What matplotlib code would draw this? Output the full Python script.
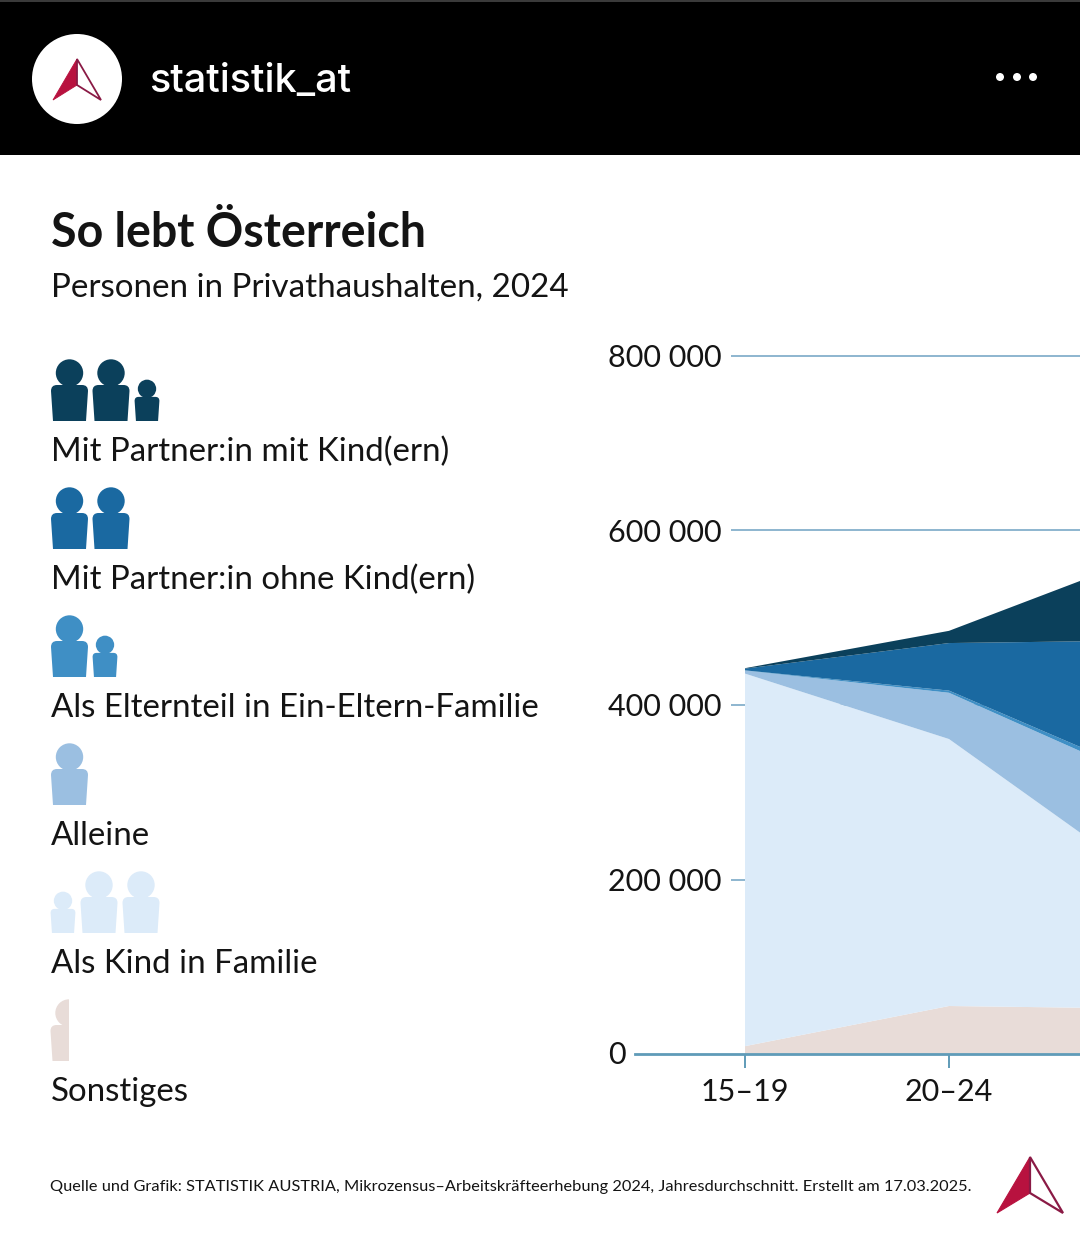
import matplotlib
matplotlib.use('Agg')
import matplotlib.pyplot as plt
from matplotlib.patches import Circle, PathPatch, Polygon, Rectangle
from matplotlib.path import Path
from matplotlib.transforms import ScaledTranslation
import numpy as np

W, H = 1080, 1235
FONT = 'Lato'
plt.rcParams['font.family'] = [FONT, 'DejaVu Sans']

# data (third age group is cut off at the right edge)
age_groups = ['15–19', '20–24', '25–29']
sonstiges = [9000, 55000, 52000]
als_kind = [427000, 306000, 142000]
alleine = [3500, 53000, 116000]
ein_eltern = [200, 2500, 6000]
ohne_kind = [2000, 54500, 158000]
mit_kind = [500, 14000, 100000]
y_ticks = [0, 200000, 400000, 600000, 800000]
y_labels = ['0', '200 000', '400 000', '600 000', '800 000']

col_mit = '#0b405b'
col_ohne = '#1a69a1'
col_eltern = '#3f8fc5'
col_allein = '#9bbfe1'
col_kind = '#dcebf9'
col_sonst = '#e8dcd8'
col_grid = '#8db5cf'
col_base = '#5f9bb8'
col_logo = '#b8123f'
col_logo2 = '#8a1a45'
col_text = '#141414'

legend_rows = [
    ('Mit Partner:in mit Kind(ern)', col_mit, 421, 452, [(69.5, 1), (111, 1), (147, 0.67)]),
    ('Mit Partner:in ohne Kind(ern)', col_ohne, 549, 580, [(69.5, 1), (111, 1)]),
    ('Als Elternteil in Ein-Eltern-Familie', col_eltern, 677, 708, [(69.5, 1), (105, 0.67)]),
    ('Alleine', col_allein, 805, 836, [(69.5, 1)]),
    ('Als Kind in Familie', col_kind, 933, 964, [(63, 0.67), (99, 1), (141, 1)]),
    ('Sonstiges', col_sonst, 1061, 1092, [(69, 1)]),
]

fig = plt.figure(figsize=(W / 100, H / 100), dpi=100, facecolor='white')

# chart, placed so that 0 sits at y=1054 and 800 000 at y=356
ax = fig.add_axes([635 / W, (H - 1054) / H, 445 / W, 698 / H])
x_pos = np.arange(len(age_groups))
ax.stackplot(x_pos, sonstiges, als_kind, alleine, ein_eltern, ohne_kind, mit_kind,
             colors=[col_sonst, col_kind, col_allein, col_eltern, col_ohne, col_mit],
             linewidth=0, zorder=3)
ax.set_xlim((635 - 745) / 204, (1080 - 745) / 204)
ax.set_ylim(0, 800000)
ax.hlines(y_ticks[1:], (731 - 745) / 204, 2, color=col_grid, lw=1.4, zorder=1, clip_on=False)
ax.axhline(0, color=col_base, lw=2.0, zorder=4, clip_on=False)
for s in ax.spines.values():
    s.set_visible(False)
ax.set_xticks(x_pos[:2], age_groups[:2])
ax.set_yticks(y_ticks, y_labels)
ax.tick_params(axis='x', length=10, width=1.4, color=col_base, pad=7,
               labelsize=22, labelcolor=col_text)
ax.tick_params(axis='y', length=0, pad=19.4, labelsize=22, labelcolor=col_text)
for t in ax.get_yticklabels():
    t.set_ha('left')
# the 0 label sits a little above the axis line in the original
zero = ax.get_yticklabels()[0]
zero.set_transform(zero.get_transform() + ScaledTranslation(0, 2 / 100, fig.dpi_scale_trans))
ax.patch.set_visible(False)

# everything else is drawn in pixel coordinates on top
ov = fig.add_axes([0, 0, 1, 1], zorder=5)
ov.set_xlim(0, W)
ov.set_ylim(H, 0)
ov.axis('off')


def person(cx, bottom, s, color, clip=None):
    # body with shoulders, slightly narrower to the bottom, plus a round head
    w_top, w_bot, h, r = 18.5 * s, 16.5 * s, 36 * s, 6 * s
    verts = [(cx - w_bot, bottom), (cx - w_top, bottom - h + r),
             (cx - w_top, bottom - h), (cx - w_top + r, bottom - h),
             (cx + w_top - r, bottom - h), (cx + w_top, bottom - h),
             (cx + w_top, bottom - h + r), (cx + w_bot, bottom), (cx - w_bot, bottom)]
    codes = [Path.MOVETO, Path.LINETO, Path.CURVE3, Path.CURVE3, Path.LINETO,
             Path.CURVE3, Path.CURVE3, Path.LINETO, Path.CLOSEPOLY]
    parts = [PathPatch(Path(verts, codes), fc=color, ec='none'),
             Circle((cx, bottom - 48 * s), 13.7 * s, fc=color, ec='none')]
    for p in parts:
        ov.add_patch(p)
        if clip is not None:
            p.set_clip_path(Rectangle((0, 0), clip, H, transform=ov.transData))


def logo(apex, left, right, inner, lw):
    ov.add_patch(Polygon([apex, inner, left], closed=True, fc=col_logo, ec=col_logo, lw=lw * 0.5, joinstyle='miter'))
    ov.add_patch(Polygon([apex, right, inner], closed=True, fc='white', ec=col_logo2, lw=lw, joinstyle='miter'))


# header bar
ov.add_patch(Rectangle((0, 0), W, 155, fc='black', ec='none'))
ov.add_patch(Rectangle((0, 0), W, 1.5, fc='#3a3a3a', ec='none'))
ov.add_patch(Circle((77, 79), 45, fc='white', ec='none'))
logo((77, 59), (53, 100), (101, 100), (77, 85), 1.3)
ov.text(149, 82, 'statistik_at', color='white', fontsize=28.5, family='Inter',
        fontweight='medium', va='center', ha='left')
for dx in [1000, 1017, 1033]:
    ov.add_patch(Circle((dx, 77), 4, fc='white', ec='none'))

# title
ov.text(51, 233, 'So lebt Österreich', fontsize=33.5, fontweight='bold', color=col_text,
        va='center', ha='left')
ov.text(51, 288, 'Personen in Privathaushalten, 2024', fontsize=23.85, color=col_text,
        va='center', ha='left')

# legend with the little people icons
for label, color, bottom, text_y, people in legend_rows:
    for cx, s in people:
        person(cx, bottom, s, color, clip=69 if label == 'Sonstiges' else None)
    ov.text(51, text_y, label, fontsize=23.8, color=col_text, va='center', ha='left')

# source line and logo
ov.text(50, 1187, 'Quelle und Grafik: STATISTIK AUSTRIA, Mikrozensus–Arbeitskräfteerhebung 2024, '
        'Jahresdurchschnitt. Erstellt am 17.03.2025.', fontsize=11.8, color=col_text,
        va='center', ha='left')
logo((1030, 1157), (997, 1213), (1063, 1213), (1030, 1193), 1.6)

fig.savefig('out.png', dpi=100)
